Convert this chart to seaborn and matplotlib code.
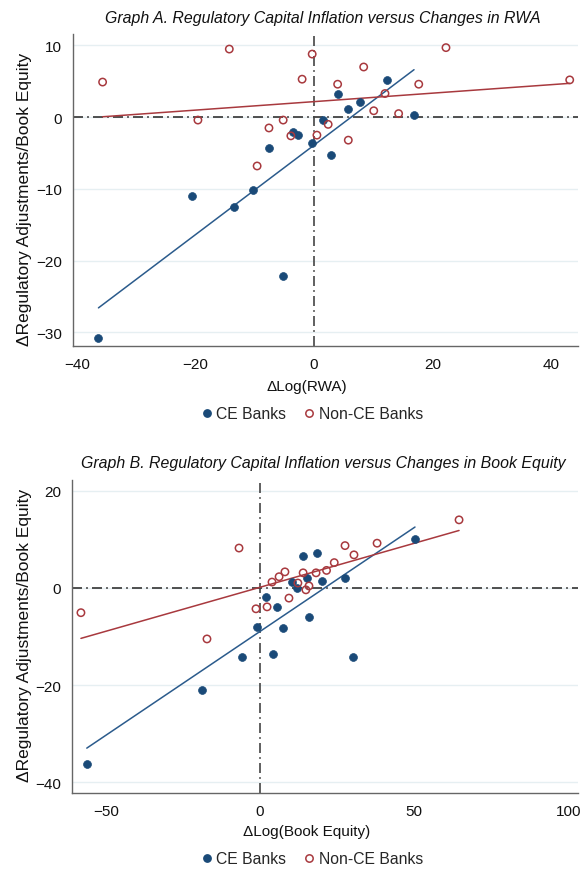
import matplotlib
matplotlib.use("Agg")
import matplotlib.pyplot as plt
import seaborn as sns
import pandas as pd
from matplotlib.lines import Line2D

# ---------------- data ----------------
# Graph A: dLog(RWA) vs dRegulatory adjustments / book equity
a_ce_x = [-20.6, -13.5, -10.3, -7.6, -5.2, -36.4, -3.5, -2.7, -0.3, 1.5, 2.9, 4.0, 5.8, 7.8, 12.4, 16.9]
a_ce_y = [-11.0, -12.5, -10.2, -4.3, -22.2, -30.8, -2.1, -2.5, -3.6, -0.4, -5.3, 3.3, 1.1, 2.1, 5.2, 0.3]
a_non_x = [-35.7, -14.3, -0.3, -2.0, -19.6, -5.2, -7.6, -3.9, -9.6, 0.5, 2.4, 5.8, 4.0, 8.4, 12.0, 10.1, 14.3, 17.7, 22.3, 43.2]
a_non_y = [4.9, 9.5, 8.8, 5.3, -0.4, -0.4, -1.5, -2.6, -6.8, -2.5, -1.0, -3.2, 4.6, 7.0, 3.3, 0.9, 0.5, 4.6, 9.7, 5.2]

# Graph B: dLog(Book Equity) vs dRegulatory adjustments / book equity
b_ce_x = [14.0, 18.5, 10.4, 15.3, 12.0, 2.0, 5.5, 15.9, 7.5, -1.0, -5.8, 4.3, 20.1, 27.6, 30.2, 50.3, -18.8, -56.2]
b_ce_y = [6.6, 7.2, 1.2, 2.1, 0.0, -1.9, -3.9, -6.0, -8.2, -8.0, -14.2, -13.6, 1.4, 2.1, -14.2, 10.1, -21.0, -36.2]
b_non_x = [-6.8, -58.1, -17.2, -1.3, 2.3, 3.9, 6.2, 8.1, 12.3, 14.0, 15.9, 14.9, 9.4, 18.2, 21.6, 24.1, 27.6, 30.5, 38.0, 64.6]
b_non_y = [8.2, -5.1, -10.5, -4.3, -3.9, 1.2, 2.3, 3.3, 1.0, 3.1, 0.4, -0.4, -2.1, 3.1, 3.6, 5.2, 8.7, 6.8, 9.2, 14.0]

titles = ["Graph A. Regulatory Capital Inflation versus Changes in RWA",
          "Graph B. Regulatory Capital Inflation versus Changes in Book Equity"]
xlabels = ["\u0394Log(RWA)", "\u0394Log(Book Equity)"]
ylabel = "\u0394Regulatory Adjustments/Book Equity"
legend_labels = ["CE Banks", "Non-CE Banks"]
a_xticks = [-40, -20, 0, 20, 40]
a_yticks = [-30, -20, -10, 0, 10]
b_xticks = [-50, 0, 50, 100]
b_yticks = [-40, -20, 0, 20]

# ---------------- style ----------------
sns.set_theme(style="white")
plt.rcParams["font.family"] = ["Liberation Sans", "DejaVu Sans"]

NAVY = "#1a4a78"
RED = "#a8393e"
W, H = 583, 870
fig = plt.figure(figsize=(W / 100, H / 100), dpi=100)
fig.patch.set_facecolor("white")


def px_axes(l, t, r, b):
    return fig.add_axes([l / W, 1 - b / H, (r - l) / W, (b - t) / H])


def panel(ax, ce_x, ce_y, non_x, non_y, xlim, ylim, xticks, yticks, title, xlabel,
          title_y, xl_y, leg_y, yl_center):
    df_ce = pd.DataFrame({"x": ce_x, "y": ce_y})
    df_non = pd.DataFrame({"x": non_x, "y": non_y})
    # grid lines
    for yt in yticks:
        ax.axhline(yt, color="#e6eff2", lw=1.0, zorder=0)
    # reference lines
    ax.axhline(0, color="#333333", lw=1.2, dashes=(6, 2.5, 1, 2.5), zorder=1)
    ax.axvline(0, color="#444444", lw=1.2, dashes=(6, 2.5, 1, 2.5), zorder=1)
    sns.scatterplot(data=df_ce, x="x", y="y", ax=ax, color=NAVY, s=32,
                    edgecolor=NAVY, linewidth=0.5, zorder=3, legend=False)
    sns.scatterplot(data=df_non, x="x", y="y", ax=ax, facecolor="none", s=28,
                    edgecolor=RED, linewidth=1.1, zorder=3, legend=False)
    sns.regplot(data=df_ce, x="x", y="y", ax=ax, scatter=False, ci=None,
                truncate=True, line_kws={"color": "#2b5b8c", "lw": 1.1, "zorder": 2})
    sns.regplot(data=df_non, x="x", y="y", ax=ax, scatter=False, ci=None,
                truncate=True, line_kws={"color": RED, "lw": 1.1, "zorder": 2})
    ax.set_xlim(*xlim)
    ax.set_ylim(*ylim)
    ax.set_xticks(xticks)
    ax.set_yticks(yticks)
    ax.set_xticklabels([str(v).replace("-", "\u2212") for v in xticks])
    ax.set_yticklabels([str(v).replace("-", "\u2212") for v in yticks])
    for s in ["top", "right"]:
        ax.spines[s].set_visible(False)
    for s in ["left", "bottom"]:
        ax.spines[s].set_color("#666666")
        ax.spines[s].set_linewidth(1.0)
    ax.tick_params(axis="both", direction="out", length=5, width=1.0, color="#666666",
                   labelsize=11, labelcolor="#111111", pad=3)
    ax.set_xlabel("")
    ax.set_ylabel("")
    fig.text(25 / W, 1 - yl_center / H, ylabel, rotation=90, ha="center", va="center",
             fontsize=12.5, color="#111111")
    fig.text(323 / W, 1 - title_y / H, title, ha="center", va="center",
             fontsize=11.4, style="italic", color="#111111")
    fig.text(307 / W, 1 - xl_y / H, xlabel, ha="center", va="center",
             fontsize=11, color="#111111")
    handles = [Line2D([], [], marker="o", ls="none", color=NAVY, markersize=5.3),
               Line2D([], [], marker="o", ls="none", markerfacecolor="none",
                      markeredgecolor=RED, markeredgewidth=1.1, markersize=5.3)]
    fig.legend(handles, legend_labels, loc="center", ncol=2, frameon=False,
               bbox_to_anchor=(313 / W, 1 - leg_y / H), fontsize=11.3,
               handlelength=0.5, handletextpad=0.35, columnspacing=1.2)


axA = px_axes(73, 35, 578, 347)
panel(axA, a_ce_x, a_ce_y, a_non_x, a_non_y, (-40.7, 44.6), (-31.9, 11.6),
      a_xticks, a_yticks, titles[0], xlabels[0], 18, 387, 415, 199)

axB = px_axes(72, 481, 578, 794)
panel(axB, b_ce_x, b_ce_y, b_non_x, b_non_y, (-61.0, 103.2), (-42.2, 22.2),
      b_xticks, b_yticks, titles[1], xlabels[1], 464, 832, 860, 635)

fig.savefig("out.png", dpi=100, facecolor="white")
